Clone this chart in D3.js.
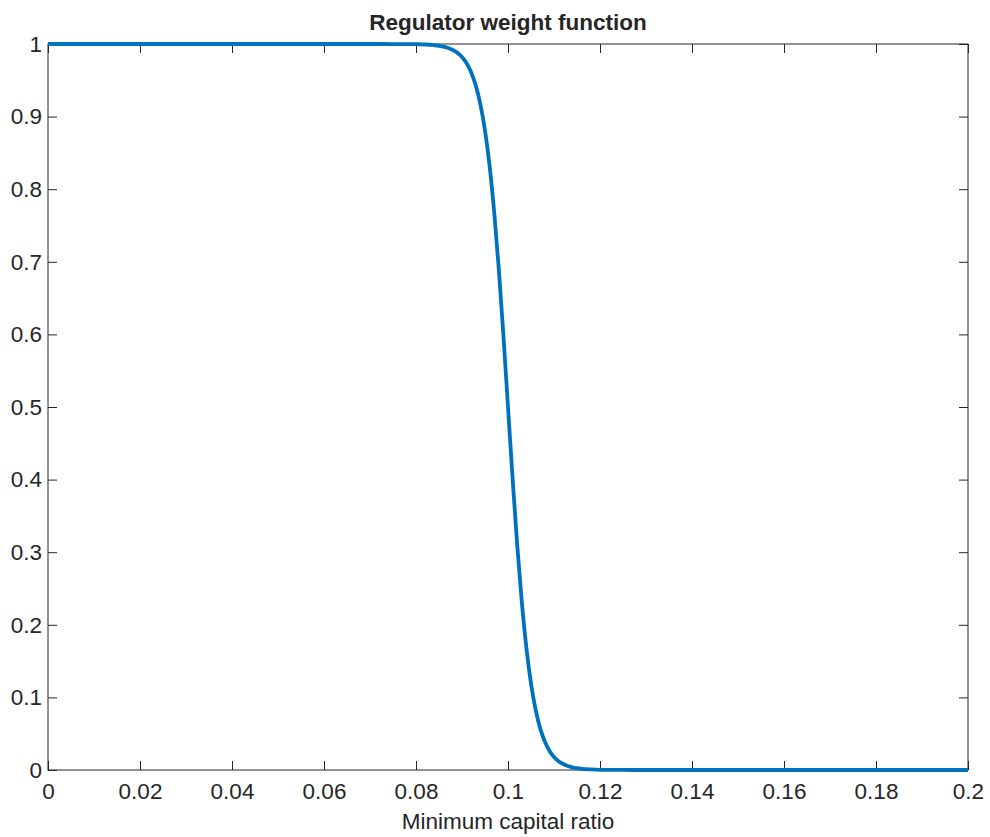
<!DOCTYPE html>
<html>
<head>
<meta charset="utf-8">
<script src="https://cdn.jsdelivr.net/npm/d3@7"></script>
<style>
  html, body { margin: 0; padding: 0; background: #fff; }
  text { font-family: "Liberation Sans", Arial, Helvetica, sans-serif; fill: #262626; }
</style>
</head>
<body>
<svg id="chart" width="990" height="837"></svg>
<script>
// Minimum capital ratio (x) and regulator weight (y)
const capitalRatio = [0, 0.02, 0.04, 0.06, 0.07, 0.075, 0.08, 0.082, 0.084, 0.085, 0.086, 0.087, 0.088,
  0.089, 0.090, 0.091, 0.092, 0.093, 0.094, 0.095, 0.096, 0.097, 0.098, 0.099, 0.100,
  0.101, 0.102, 0.103, 0.104, 0.105, 0.106, 0.107, 0.108, 0.109, 0.110, 0.111, 0.112,
  0.113, 0.114, 0.115, 0.116, 0.118, 0.120, 0.125, 0.13, 0.15, 0.17, 0.19, 0.2];
const regulatorWeight = [1, 1, 1, 1, 1, 0.9999, 0.9997, 0.9993, 0.9983, 0.9975, 0.9963, 0.9945, 0.9918,
  0.9879, 0.982, 0.9734, 0.9608, 0.9427, 0.9168, 0.8808, 0.832, 0.7685, 0.690, 0.5987, 0.500,
  0.4013, 0.310, 0.2315, 0.168, 0.1192, 0.0832, 0.0573, 0.0392, 0.0266, 0.018, 0.0121, 0.0082,
  0.0055, 0.0037, 0.0025, 0.0017, 0.0008, 0.0003, 0.0001, 0, 0, 0, 0, 0];
const xTicks = [0, 0.02, 0.04, 0.06, 0.08, 0.1, 0.12, 0.14, 0.16, 0.18, 0.2];
const yTicks = [0, 0.1, 0.2, 0.3, 0.4, 0.5, 0.6, 0.7, 0.8, 0.9, 1];
const titleText = "Regulator weight function";
const xLabelText = "Minimum capital ratio";

const svg = d3.select("#chart");
const margin = { left: 48, right: 22, top: 44, bottom: 67 };
const W = 990, H = 837;
const innerW = W - margin.left - margin.right;
const innerH = H - margin.top - margin.bottom;

const x = d3.scaleLinear().domain([0, 0.2]).range([margin.left, margin.left + innerW]);
const y = d3.scaleLinear().domain([0, 1]).range([margin.top + innerH, margin.top]);

const fmt = d => d3.format("~g")(d);
const tickLen = 9;
const axisColor = "#262626";
const tickFont = 22.5;

function styleAxis(g) {
  g.select(".domain").remove();
  g.selectAll(".tick line").attr("stroke", axisColor);
  g.selectAll(".tick text").attr("font-size", tickFont).attr("fill", axisColor)
    .style("font-family", '"Liberation Sans", Arial, sans-serif');
}

// Bottom and left axes with labels, inward ticks
svg.append("g").attr("transform", `translate(0,${y(0)})`)
  .call(d3.axisBottom(x).tickValues(xTicks).tickFormat(fmt).tickSizeInner(-tickLen).tickSizeOuter(0).tickPadding(13))
  .call(styleAxis);
svg.append("g").attr("transform", `translate(${x(0)},0)`)
  .call(d3.axisLeft(y).tickValues(yTicks).tickFormat(fmt).tickSizeInner(-tickLen).tickSizeOuter(0).tickPadding(6))
  .call(styleAxis);
// Top and right mirrored ticks
svg.append("g").attr("transform", `translate(0,${y(1)})`)
  .call(d3.axisTop(x).tickValues(xTicks).tickFormat("").tickSizeInner(-tickLen).tickSizeOuter(0))
  .call(styleAxis);
svg.append("g").attr("transform", `translate(${x(0.2)},0)`)
  .call(d3.axisRight(y).tickValues(yTicks).tickFormat("").tickSizeInner(-tickLen).tickSizeOuter(0))
  .call(styleAxis);

// Axes box
svg.append("rect")
  .attr("x", x(0)).attr("y", y(1))
  .attr("width", x(0.2) - x(0)).attr("height", y(0) - y(1))
  .attr("fill", "none").attr("stroke", axisColor).attr("stroke-width", 1);

// Weight curve
const pts = capitalRatio.map((c, i) => [c, regulatorWeight[i]]);
const line = d3.line().x(d => x(d[0])).y(d => y(d[1])).curve(d3.curveMonotoneX);
svg.append("path")
  .datum(pts)
  .attr("d", line)
  .attr("fill", "none")
  .attr("stroke", "#0072BD")
  .attr("stroke-width", 3.8)
  .attr("stroke-linejoin", "round");

// Title and x label
svg.append("text")
  .attr("x", (x(0) + x(0.2)) / 2).attr("y", 30)
  .attr("text-anchor", "middle").attr("font-size", 22.5).attr("font-weight", "bold")
  .attr("fill", "#000")
  .text(titleText);
svg.append("text")
  .attr("x", (x(0) + x(0.2)) / 2).attr("y", 829)
  .attr("text-anchor", "middle").attr("font-size", 22.5)
  .text(xLabelText);
</script>
</body>
</html>
